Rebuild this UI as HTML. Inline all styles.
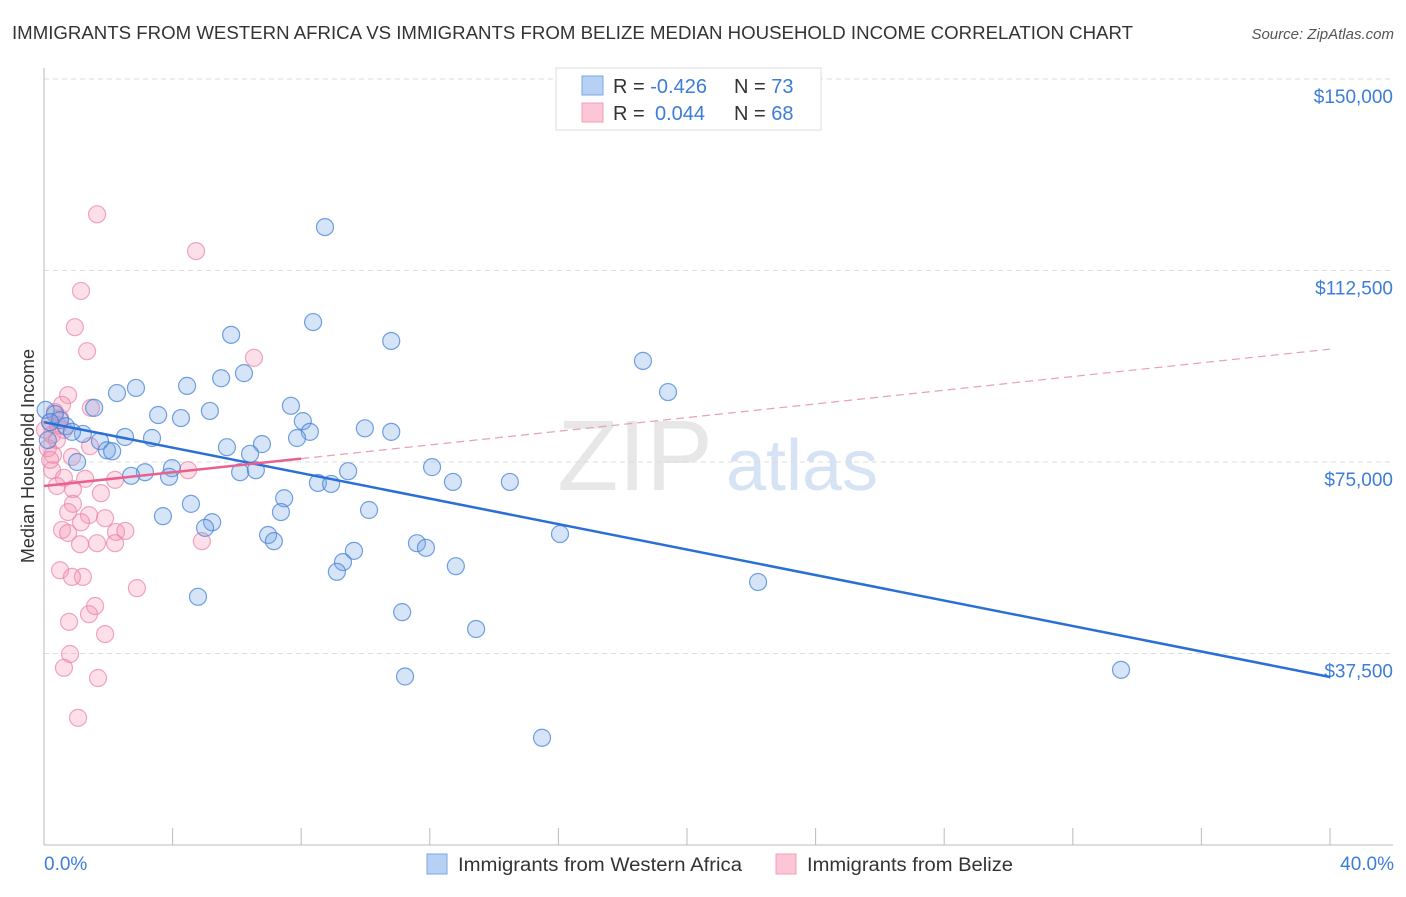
<!DOCTYPE html>
<html><head><meta charset="utf-8"><style>
body{margin:0;background:#fff;font-family:"Liberation Sans",sans-serif;}
svg text{font-family:"Liberation Sans",sans-serif;}
</style></head><body>
<svg id="chart" width="1406" height="892" xmlns="http://www.w3.org/2000/svg">
<text x="12" y="39" font-size="18" fill="#333" textLength="1121" lengthAdjust="spacingAndGlyphs">IMMIGRANTS FROM WESTERN AFRICA VS IMMIGRANTS FROM BELIZE MEDIAN HOUSEHOLD INCOME CORRELATION CHART</text>
<text x="1394" y="39" font-size="15" fill="#555" font-style="italic" text-anchor="end">Source: ZipAtlas.com</text>
<text transform="translate(34,456) rotate(-90)" font-size="18" fill="#333" text-anchor="middle">Median Household Income</text>
<g>
<text x="635" y="490" font-size="100" fill="#ddd" font-family="Liberation Serif" text-anchor="middle" opacity="0.7">ZIP</text>
<text x="802" y="490" font-size="72" fill="#c5d8f0" text-anchor="middle" opacity="0.7">atlas</text>
</g>
<g id="grid"></g><g id="axes"></g><g id="pts"></g><g id="trends"></g>
<g>
<rect x="556" y="68" width="265" height="62" fill="#fff" stroke="#ddd"/>
<rect x="582" y="76" width="21" height="19" fill="#b7d1f5" stroke="#7aa7e6"/>
<rect x="582" y="103" width="21" height="19" fill="#fcc6d6" stroke="#f0a0b8"/>
<text x="613" y="93" font-size="20" fill="#333">R = <tspan fill="#3b7dd8">-0.426</tspan></text>
<text x="734" y="93" font-size="20" fill="#333">N = <tspan fill="#3b7dd8">73</tspan></text>
<text x="613" y="120" font-size="20" fill="#333">R = <tspan fill="#3b7dd8" x="655">0.044</tspan></text>
<text x="734" y="120" font-size="20" fill="#333">N = <tspan fill="#3b7dd8">68</tspan></text>
</g>
<g>
<rect x="427" y="854" width="20" height="20" fill="#b7d1f5" stroke="#7aa7e6"/>
<text x="458" y="871" font-size="19" fill="#333" textLength="284" lengthAdjust="spacingAndGlyphs">Immigrants from Western Africa</text>
<rect x="776" y="854" width="20" height="20" fill="#fcc6d6" stroke="#f0a0b8"/>
<text x="807" y="871" font-size="19" fill="#333" textLength="206" lengthAdjust="spacingAndGlyphs">Immigrants from Belize</text>
</g>
<text x="44" y="870" font-size="19" fill="#3b7dd8">0.0%</text>
<text x="1394" y="870" font-size="19" fill="#3b7dd8" text-anchor="end">40.0%</text>
</svg>
<script>
const yTicks=[37500,75000,112500,150000];
const yTickLabels=["$37,500","$75,000","$112,500","$150,000"];
const xTicks=[0,4,8,12,16,20,24,28,32,36,40];
const blueX=[8.74,8.37,5.82,10.8,18.63,6.22,5.51,2.86,4.45,2.27,19.41,1.56,5.16,7.68,3.55,4.26,8.05,9.98,10.8,8.27,7.87,2.52,3.36,1.21,1.74,6.78,5.69,1.96,2.12,6.41,1.03,12.07,3.98,3.14,2.71,3.89,6.1,6.59,9.46,12.72,14.49,8.52,8.93,7.47,4.57,10.11,7.37,3.7,5.23,5.01,16.05,6.97,7.15,11.6,11.88,9.64,9.3,12.81,9.11,22.21,4.79,11.14,13.44,33.5,11.23,15.49,0.05,0.34,0.5,0.68,0.87,0.19,0.12];
const blueY=[121000,102400,99900,98700,94800,92400,91400,89500,89900,88500,88700,85600,85000,86000,84200,83600,83000,81600,80900,80900,79700,79900,79700,80500,79100,78500,77900,77300,77100,76600,75000,74000,73800,73000,72300,72100,73000,73400,73200,71100,71100,70900,70700,67900,66800,65600,65200,64400,63200,62100,60900,60700,59500,59100,58200,57600,55400,54600,53500,51500,48600,45600,42300,34300,33000,21000,85200,84400,83200,82000,80900,82800,79300];
const pinkX=[1.65,4.73,1.15,0.96,1.34,6.53,0.75,0.56,1.46,0.34,0.5,0.19,0.62,0.25,0.4,0.12,1.43,0.28,0.87,4.48,0.25,0.62,1.28,2.21,0.4,0.9,1.77,0.9,0.75,1.4,1.9,1.15,0.56,0.75,2.24,2.53,1.12,1.65,2.21,4.91,0.5,1.21,0.87,2.89,1.59,1.4,0.78,1.9,0.81,0.62,1.68,1.06,0.19,0.03,0.44];
const pinkY=[123500,116300,108500,101400,96700,95400,88100,86200,85600,84800,83600,82800,81300,80300,79300,77700,78100,76400,76000,73400,73400,71900,71700,71500,70300,69700,68900,66800,65200,64600,64000,63200,61700,61100,61300,61500,58900,59100,59100,59500,53800,52500,52500,50300,46800,45200,43700,41300,37400,34700,32700,24900,75400,81300,82200];
const blueTrend=[82800,32900];
const pinkTrend=[70300,97100];
const X=v=>44+v/40*1286, Y=v=>845-v/37500*191.5;
const NS="http://www.w3.org/2000/svg";
function mk(t,a,p){const e=document.createElementNS(NS,t);for(const k in a)e.setAttribute(k,a[k]);p.appendChild(e);return e;}
const grid=document.getElementById('grid'),axes=document.getElementById('axes'),pts=document.getElementById('pts'),tr=document.getElementById('trends');
yTicks.forEach((v,i)=>{
 const l=mk('line',{x1:44,x2:1393,y1:Y(v),y2:Y(v),stroke:'#ddd','stroke-dasharray':'5,4'},grid);
 
 
 const t=mk('text',{x:1393,y:Y(v)+24,'font-size':19,fill:'#3b7dd8','text-anchor':'end'},grid);
 t.textContent=yTickLabels[i];
 
 
});
const ya=mk('line',{x1:44,x2:44,y1:68,y2:845,stroke:'#bbb'},axes);


const xa=mk('line',{x1:44,x2:1393,y1:845,y2:845,stroke:'#bbb'},axes);


xTicks.forEach(v=>{const t=mk('line',{x1:X(v),x2:X(v),y1:828,y2:845,stroke:'#bbb'},axes);
 
 });
pinkX.forEach((x,i)=>{const c=mk('circle',{cx:X(x),cy:Y(pinkY[i]),r:8.5,fill:'rgba(245,150,180,0.3)',stroke:'rgba(235,130,165,0.7)','stroke-width':1.2},pts);
 
 });
blueX.forEach((x,i)=>{const c=mk('circle',{cx:X(x),cy:Y(blueY[i]),r:8.5,fill:'rgba(120,165,230,0.3)',stroke:'rgba(70,130,215,0.75)','stroke-width':1.2},pts);
 
 });
const bt=mk('line',{x1:X(0),y1:Y(blueTrend[0]),x2:X(40),y2:Y(blueTrend[1]),stroke:'#2a6fd6','stroke-width':2.5},tr);


const pv=x=>pinkTrend[0]+(pinkTrend[1]-pinkTrend[0])*x/40;
const ps=mk('line',{x1:X(0),y1:Y(pv(0)),x2:X(8),y2:Y(pv(8)),stroke:'#e8608c','stroke-width':2.5},tr);


const pd=mk('line',{x1:X(8),y1:Y(pv(8)),x2:X(40),y2:Y(pv(40)),stroke:'#e8a0b8','stroke-width':1.2,'stroke-dasharray':'8,5'},tr);


</script>
</body></html>
